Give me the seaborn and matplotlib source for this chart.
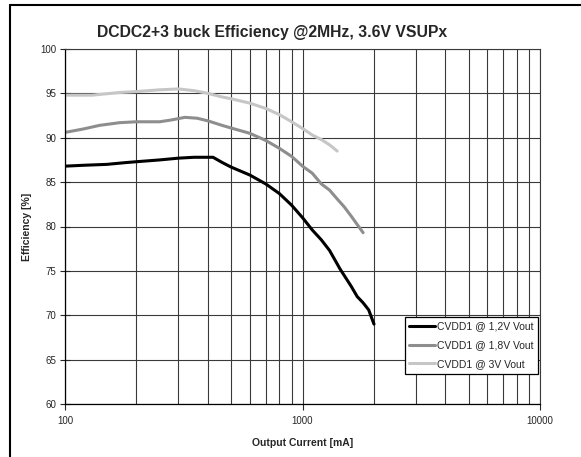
import numpy as np
import pandas as pd
import seaborn as sns
import matplotlib.pyplot as plt
from matplotlib.lines import Line2D
from matplotlib.ticker import FixedLocator, LogLocator, NullFormatter, FuncFormatter

# --- data (output current in mA, efficiency in %) ---
current_12v = [100, 120, 150, 180, 200, 250, 300, 350, 420, 460, 500, 600, 700,
               800, 900, 1000, 1100, 1200, 1300, 1440, 1600, 1700, 1800, 1900, 2000]
eff_12v = [86.8, 86.9, 87.0, 87.2, 87.3, 87.5, 87.7, 87.8, 87.8, 87.2, 86.7, 85.8, 84.8,
           83.7, 82.4, 81.0, 79.6, 78.5, 77.3, 75.2, 73.3, 72.1, 71.4, 70.6, 69.0]

current_18v = [100, 120, 140, 170, 200, 250, 280, 320, 360, 400, 458, 500, 600,
               700, 800, 900, 1000, 1100, 1200, 1300, 1400, 1500, 1600, 1800]
eff_18v = [90.6, 91.0, 91.4, 91.7, 91.8, 91.8, 92.0, 92.3, 92.2, 91.9, 91.4, 91.1, 90.5,
           89.7, 88.8, 87.9, 86.8, 86.0, 84.8, 84.1, 83.1, 82.2, 81.2, 79.3]

current_3v = [100, 130, 170, 200, 250, 300, 350, 400, 458, 500, 600, 700, 800,
              900, 1000, 1100, 1200, 1300, 1400]
eff_3v = [94.8, 94.8, 95.1, 95.2, 95.4, 95.5, 95.3, 95.0, 94.6, 94.4, 93.9, 93.3, 92.6,
          91.8, 91.05, 90.3, 89.8, 89.2, 88.5]

series_names = ["CVDD1 @ 1,2V Vout", "CVDD1 @ 1,8V Vout", "CVDD1 @ 3V Vout"]
series_colors = ["#000000", "#8e8e8e", "#c6c6c6"]

frames = []
for name, cur, eff in zip(series_names,
                          [current_12v, current_18v, current_3v],
                          [eff_12v, eff_18v, eff_3v]):
    frames.append(pd.DataFrame({"current": cur, "efficiency": eff, "series": name}))
df = pd.concat(frames, ignore_index=True)

# --- styling ---
sns.set_style("white")
plt.rcParams['font.family'] = ['Liberation Sans', 'DejaVu Sans']

fig = plt.figure(figsize=(5.81, 4.57), dpi=100)
ax = fig.add_axes([65 / 581, 1 - 404 / 457, 475 / 581, 355 / 457])

sns.lineplot(data=df, x="current", y="efficiency", hue="series",
             hue_order=series_names, palette=series_colors,
             estimator=None, sort=False, linewidth=2.2, ax=ax)

ax.set_xscale("log")
ax.set_xlim(100, 10000)
ax.set_ylim(60, 100)
ax.set_yticks(np.arange(60, 101, 5))
ax.xaxis.set_major_locator(FixedLocator([100, 1000, 10000]))
ax.xaxis.set_major_formatter(FuncFormatter(lambda v, p: f"{v:.0f}"))
ax.xaxis.set_minor_locator(LogLocator(base=10, subs=range(2, 10)))
ax.xaxis.set_minor_formatter(NullFormatter())

grid_col = "#3a3a3a"
ax.grid(True, which="both", axis="x", color=grid_col, linewidth=0.8)
ax.grid(True, which="major", axis="y", color=grid_col, linewidth=0.8)
for side in ["top", "right"]:
    ax.spines[side].set_color(grid_col)
    ax.spines[side].set_linewidth(0.8)
for side in ["left", "bottom"]:
    ax.spines[side].set_color("#000000")
    ax.spines[side].set_linewidth(0.9)

ax.tick_params(axis="y", which="major", direction="inout", length=7, width=0.8,
               labelsize=7, pad=3, left=True)
ax.tick_params(axis="x", which="major", direction="out", length=4, width=0.8,
               labelsize=7, pad=5, bottom=True)
ax.tick_params(axis="x", which="minor", length=0)

ax.set_xlabel("Output Current [mA]", fontsize=7.5, fontweight="bold", labelpad=8)
ax.set_ylabel("Efficiency [%]", fontsize=7.5, fontweight="bold", labelpad=6)

leg = ax.legend(loc="lower right", bbox_to_anchor=(0.996, 0.085), frameon=True,
                fancybox=False, edgecolor="#000000", framealpha=1, fontsize=7.5,
                handlelength=2.5, handletextpad=0.15, borderpad=0.45,
                labelspacing=0.85, borderaxespad=0)
leg.get_frame().set_linewidth(0.9)

fig.text(272 / 581, 1 - 33 / 457, "DCDC2+3 buck Efficiency @2MHz, 3.6V VSUPx",
         ha="center", va="center", fontsize=11.3, fontweight="bold")

# chart area border (only left and top edges fall inside the picture)
fig.add_artist(Line2D([10 / 581, 10 / 581], [0, 1 - 5 / 457], transform=fig.transFigure,
                      color="#000000", linewidth=1.5))
fig.add_artist(Line2D([10 / 581, 1], [1 - 5 / 457, 1 - 5 / 457], transform=fig.transFigure,
                      color="#000000", linewidth=1.5))

fig.savefig("out.png", dpi=100)
